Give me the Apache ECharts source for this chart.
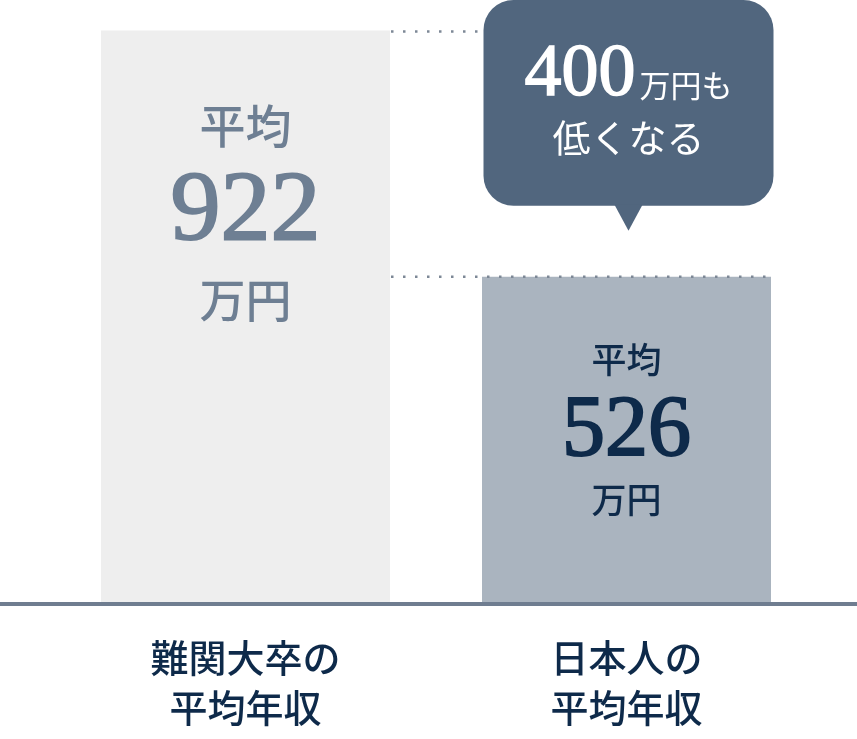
<!DOCTYPE html>
<html><head><meta charset="utf-8">
<script src="https://cdn.jsdelivr.net/npm/echarts@6/dist/echarts.min.js"></script>
<style>html,body{margin:0;padding:0;background:#fff}#c{width:857px;height:739px}</style>
</head><body><div id="c"></div>
<script>
const categories = ['難関大卒の\n平均年収', '日本人の\n平均年収'];
const incomes = [922, 526];
const avgText = '平均';
const unitText = '万円';
const gapValue = 400;
const bubbleTail = '万円も';
const bubbleLine2 = '低くなる';

const JP = '"Noto Sans CJK JP", sans-serif';
const NUM = '"Liberation Serif", "DejaVu Serif", serif';
const barColors = ['#eeeeee', '#aab4bf'];
const textColors = ['#6e7f93', '#0e2a4a'];
const labelCfg = [
  {small: 46, big: 100, lh: 87, dist: 52, bump: 0},
  {small: 35, big: 86, lh: 70, dist: 48, bump: 6}
];

const chart = echarts.init(document.getElementById('c'));
const data = incomes.map((v, i) => ({
  value: v,
  itemStyle: {color: barColors[i]},
  label: {
    show: true, position: 'insideTop', distance: labelCfg[i].dist,
    formatter: '{a|' + avgText + '}\n{b|{c}}\n{a|' + unitText + '}',
    rich: {
      a: {fontFamily: JP, fontSize: labelCfg[i].small, lineHeight: labelCfg[i].lh, color: textColors[i], fontWeight: 500},
      b: {fontFamily: NUM, fontSize: labelCfg[i].big, lineHeight: labelCfg[i].lh, color: textColors[i],
          textBorderColor: textColors[i], textBorderWidth: 2, padding: [labelCfg[i].bump, 0, 0, 0]}
    }
  }
}));

chart.setOption({
  animation: false,
  grid: [
    {left: 55, right: 40, top: 30.5, bottom: 135},
    {left: 0, right: 0, top: 30.5, bottom: 135}
  ],
  xAxis: [
    {type: 'category', gridIndex: 0, data: categories,
     axisLine: {show: false}, axisTick: {show: false},
     axisLabel: {fontFamily: JP, fontSize: 38, lineHeight: 50, color: '#0e2a4a', margin: 29, fontWeight: 500}},
    {type: 'category', gridIndex: 1, data: [''], z: 10,
     axisLine: {onZero: false, lineStyle: {color: '#6f7d90', width: 4}},
     axisTick: {show: false}, axisLabel: {show: false}}
  ],
  yAxis: [
    {type: 'value', gridIndex: 0, min: 0, max: Math.max(...incomes), show: false},
    {type: 'value', gridIndex: 1, show: false}
  ],
  series: [{type: 'bar', barWidth: 289, data: data}]
});

// annotations positioned from the library's scales
const p1 = chart.convertToPixel({gridIndex: 0}, [0, incomes[0]]);
const p2 = chart.convertToPixel({gridIndex: 0}, [1, incomes[1]]);
const half = 289 / 2;
const dotStyle = {stroke: '#7d8896', lineWidth: 2.5, lineDash: [2.5, 9.5]};
const bubbleBottom = p2[1] - 71;
const bubbleLeft = p2[0] - 143;
const tipX = p2[0] + 2;
chart.setOption({
  graphic: [
    {type: 'line', shape: {x1: p1[0] + half + 1, y1: p1[1] + 1, x2: bubbleLeft - 6, y2: p1[1] + 1}, style: dotStyle, z: 20},
    {type: 'line', shape: {x1: p1[0] + half + 1, y1: p2[1], x2: p2[0] + half + 2, y2: p2[1]}, style: dotStyle, z: 20},
    {type: 'rect', shape: {x: bubbleLeft, y: 0, width: 290, height: bubbleBottom, r: 30}, style: {fill: '#51667e'}, z: 20},
    {type: 'polygon', shape: {points: [[tipX - 14, bubbleBottom - 1], [tipX + 14, bubbleBottom - 1], [tipX, bubbleBottom + 25]]}, style: {fill: '#51667e'}, z: 20},
    {type: 'text', x: tipX, y: 76, z: 21,
     style: {text: '{n|' + gapValue + '}{s|' + bubbleTail + '}', align: 'center', verticalAlign: 'middle',
       rich: {n: {fontFamily: NUM, fontSize: 74, fill: '#fff', stroke: '#fff', lineWidth: 1.5, verticalAlign: 'bottom', lineHeight: 74},
              s: {fontFamily: JP, fontSize: 31, fill: '#fff', verticalAlign: 'bottom', lineHeight: 74, padding: [0, 0, 12, 4]}}}},
    {type: 'text', x: tipX, y: 138, z: 21,
     style: {text: bubbleLine2, fontFamily: JP, fontSize: 38, fill: '#fff', align: 'center', verticalAlign: 'middle'}}
  ]
});
</script></body></html>
